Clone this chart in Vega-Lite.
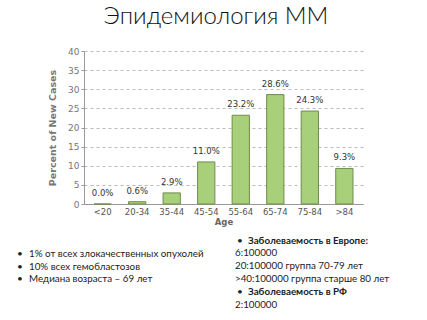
{
  "$schema": "https://vega.github.io/schema/vega-lite/v6.json",
  "autosize": "none",
  "width": 279,
  "height": 153,
  "padding": {"left": 84, "top": 51, "right": 64, "bottom": 116},
  "background": "white",
  "config": {"view": {"stroke": null}},
  "data": {"values": [
    {"age": "<20", "pct": 0.0, "label": "0.0%"},
    {"age": "20-34", "pct": 0.6, "label": "0.6%"},
    {"age": "35-44", "pct": 2.9, "label": "2.9%"},
    {"age": "45-54", "pct": 11.0, "label": "11.0%"},
    {"age": "55-64", "pct": 23.2, "label": "23.2%"},
    {"age": "65-74", "pct": 28.6, "label": "28.6%"},
    {"age": "75-84", "pct": 24.3, "label": "24.3%"},
    {"age": ">84", "pct": 9.3, "label": "9.3%"}
  ]},
  "encoding": {
    "x": {"field": "age", "type": "nominal", "sort": null,
      "scale": {"paddingInner": 0.5, "paddingOuter": 0.29},
      "axis": {"title": "Age", "labelAngle": 0, "labelFont": "DejaVu Sans", "labelFontSize": 8.5, "labelColor": "#555", "labelPadding": 3, "ticks": false, "domainColor": "#999", "titleFont": "DejaVu Sans", "titleFontSize": 8.5, "titleFontWeight": "bold", "titleColor": "#666", "titlePadding": 2}},
    "y": {"field": "pct", "type": "quantitative",
      "scale": {"domain": [0, 40]},
      "axis": {"title": "Percent of New Cases", "values": [0,5,10,15,20,25,30,35,40], "labelFont": "DejaVu Sans", "labelFontSize": 9, "labelColor": "#777", "tickSize": 3, "tickColor": "#999", "labelPadding": 2, "domainColor": "#999", "gridDash": [3, 3], "gridColor": "#bbb", "titleFont": "DejaVu Sans", "titleFontSize": 9.5, "titleFontWeight": 600, "titleColor": "#777", "titlePadding": 10}}
  },
  "layer": [
    {"mark": {"type": "bar", "fill": "#a8cf7a", "stroke": "#6e8c4a", "strokeWidth": 1}},
    {"mark": {"type": "text", "dy": -6, "baseline": "bottom", "font": "DejaVu Sans", "fontSize": 8.5, "color": "#333"},
      "encoding": {"text": {"field": "label"}}},
    {"data": {"values": [{}]},
      "mark": {"type": "text", "align": "center", "baseline": "alphabetic", "font": "Lato", "fontSize": 24, "fontWeight": 300, "color": "#111", "text": "Эпидемиология ММ"},
      "encoding": {"x": {"value": 132}, "y": {"value": -27}, "text": null}},
    {"data": {"values": [{}]},
      "mark": {"type": "text", "align": "left", "baseline": "middle", "font": "Lato", "fontSize": 10, "color": "#222", "lineHeight": 12.5,
        "text": ["•", "•", "•"]},
      "encoding": {"x": {"value": -67}, "y": {"value": 203}, "text": null}},
    {"data": {"values": [{}]},
      "mark": {"type": "text", "align": "left", "baseline": "middle", "font": "Lato", "fontSize": 9.8, "color": "#222", "lineHeight": 12.5,
        "text": ["1% от всех злокачественных опухолей", "10% всех гемобластозов", "Медиана возраста – 69 лет"]},
      "encoding": {"x": {"value": -55}, "y": {"value": 203}, "text": null}},
    {"data": {"values": [{}]},
      "mark": {"type": "text", "align": "left", "baseline": "middle", "font": "Lato", "fontSize": 9.8, "color": "#222", "lineHeight": 12.8,
        "text": ["6:100000", "20:100000 группа 70-79 лет", ">40:100000 группа старше 80 лет"]},
      "encoding": {"x": {"value": 151}, "y": {"value": 202}, "text": null}},
    {"data": {"values": [{}]},
      "mark": {"type": "text", "align": "left", "baseline": "middle", "font": "Lato", "fontSize": 9.8, "color": "#222",
        "text": "2:100000"},
      "encoding": {"x": {"value": 151}, "y": {"value": 254}, "text": null}},
    {"data": {"values": [{}]},
      "mark": {"type": "text", "align": "left", "baseline": "middle", "font": "Lato", "fontSize": 9.8, "fontWeight": "bold", "color": "#222", "lineHeight": 51,
        "text": ["Заболеваемость в Европе:", "Заболеваемость в РФ"]},
      "encoding": {"x": {"value": 164}, "y": {"value": 190}, "text": null}},
    {"data": {"values": [{}]},
      "mark": {"type": "text", "align": "left", "baseline": "middle", "font": "Lato", "fontSize": 10, "color": "#222", "lineHeight": 51,
        "text": ["•", "•"]},
      "encoding": {"x": {"value": 153}, "y": {"value": 190}, "text": null}}
  ]
}
